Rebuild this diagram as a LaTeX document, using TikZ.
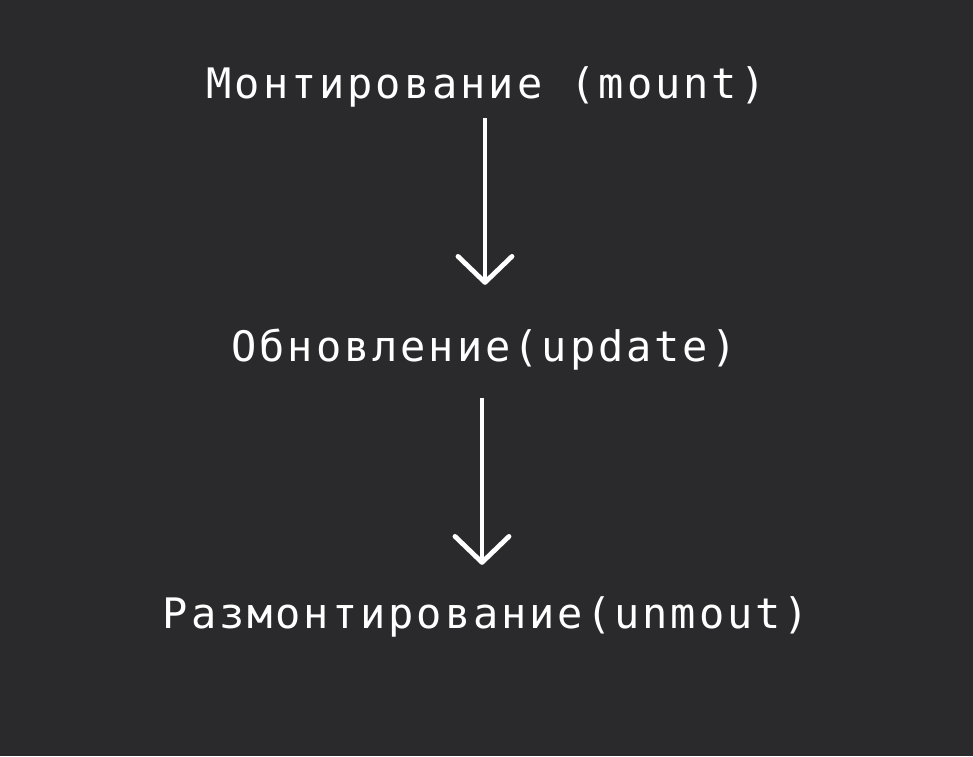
\documentclass[tikz,border=0pt]{standalone}
\usepackage{fontspec}
\setmonofont[LetterSpace=7]{DejaVu Sans Mono}
\usetikzlibrary{arrows.meta}
\definecolor{bgc}{RGB}{42,41,44}
\tikzset{
  lbl/.style={text=white, inner sep=0pt, anchor=base, text depth=0pt, text height=28pt,
    font=\ttfamily\fontsize{42pt}{50pt}\selectfont},
  arr/.style={draw=white, line width=4.8pt, -{Straight Barb[length=26pt,width=54pt,round]}}
}
\begin{document}
\begin{tikzpicture}
\fill[bgc] (0,0) rectangle (973pt,-756pt);
\useasboundingbox (0,0) rectangle (973pt,-756pt);
\node[lbl] (m) at (486pt,-98pt) {Монтирование (mount)};
\node[lbl] (u) at (484pt,-361pt) {Обновление(update)};
\node[lbl] (r) at (486pt,-628pt) {Размонтирование(unmout)};
\draw[arr] ([xshift=-1pt,yshift=-20pt]m.south) -- ([xshift=1pt,yshift=48pt]u.north);
\draw[arr] ([xshift=-2pt,yshift=-37pt]u.south) -- ([xshift=-4pt,yshift=35pt]r.north);
\end{tikzpicture}
\end{document}
